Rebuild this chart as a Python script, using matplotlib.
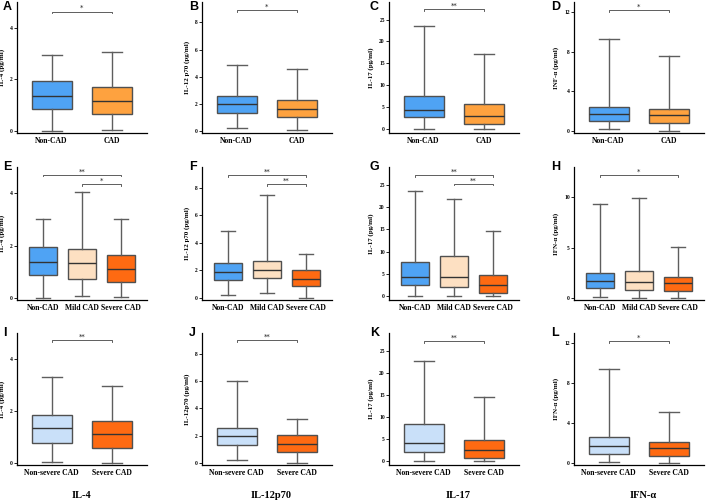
import matplotlib
matplotlib.use("Agg")
import matplotlib.pyplot as plt

# ---- data: [low whisker, q1, median, q3, high whisker] per group ----
grp_ab = ["Non-CAD", "CAD"]
grp_3 = ["Non-CAD", "Mild CAD", "Severe CAD"]
grp_sev = ["Non-severe CAD", "Severe CAD"]

il4_a = [[0.01, 0.86, 1.36, 1.92, 2.96], [0.04, 0.67, 1.18, 1.70, 3.05]]
il12_b = [[0.20, 1.31, 1.98, 2.54, 4.89], [0.05, 1.06, 1.65, 2.30, 4.60]]
il17_c = [[0.10, 2.7, 4.3, 7.6, 23.5], [0.10, 1.1, 2.9, 5.8, 17.2]]
ifn_d = [[0.17, 0.98, 1.68, 2.45, 9.3], [0.03, 0.80, 1.58, 2.25, 7.6]]

il4_e = [[0.00, 0.87, 1.38, 1.96, 3.02], [0.08, 0.72, 1.32, 1.85, 4.04],
         [0.03, 0.61, 1.11, 1.64, 3.02]]
il12_f = [[0.19, 1.31, 1.89, 2.50, 4.87], [0.36, 1.43, 2.06, 2.67, 7.47],
          [0.00, 0.87, 1.38, 2.04, 3.22]]
il17_g = [[0.0, 2.5, 4.2, 7.7, 23.5], [0.0, 2.0, 4.2, 9.1, 21.9],
          [0.0, 0.76, 2.45, 4.8, 14.5]]
ifn_h = [[0.10, 0.95, 1.66, 2.47, 9.32], [0.00, 0.81, 1.55, 2.64, 9.93],
         [0.03, 0.71, 1.45, 2.13, 5.10]]

il4_i = [[0.04, 0.77, 1.35, 1.86, 3.32], [0.00, 0.59, 1.11, 1.62, 2.97]]
il12_j = [[0.20, 1.34, 1.95, 2.59, 6.00], [0.00, 0.83, 1.39, 2.02, 3.24]]
il17_k = [[0.0, 2.06, 4.1, 8.3, 22.6], [0.0, 0.76, 2.44, 4.7, 14.4]]
ifn_l = [[0.10, 0.91, 1.69, 2.57, 9.4], [0.00, 0.74, 1.52, 2.13, 5.14]]

# significance: (group i, group j, height, stars)
sig_a = [(1, 2, 4.63, "*")]
sig_b = [(1, 2, 8.9, "*")]
sig_c = [(1, 2, 27.3, "**")]
sig_d = [(1, 2, 12.2, "*")]
sig_e = [(1, 3, 4.70, "**"), (2, 3, 4.35, "*")]
sig_f = [(1, 3, 8.92, "**"), (2, 3, 8.27, "**")]
sig_g = [(1, 3, 27.1, "**"), (2, 3, 25.2, "**")]
sig_h = [(1, 3, 12.2, "*")]
sig_i = [(1, 2, 4.72, "**")]
sig_j = [(1, 2, 8.98, "**")]
sig_k = [(1, 2, 27.1, "**")]
sig_l = [(1, 2, 12.2, "*")]

c_non = "#4fa3f4"
c_cad = "#fea23f"
c_mild = "#fde0c2"
c_sev = "#fe6a12"
c_nonsev = "#c9e0f9"

W, H = 708, 503
fig = plt.figure(figsize=(W / 100, H / 100), dpi=100)
serif = "Liberation Serif"

col_x = [17, 202, 389, 574]
letter_dx = [-14, -13, -19, -23]
row_y = [(2, 133), (167, 300), (333, 465)]
ax_w = 130


def rect(x0, y0, y1):
    return [x0 / W, 1 - y1 / H, ax_w / W, (y1 - y0) / H]


def panel(r, c, letter, stats, names, colors, ylab, ylim, yticks, sigs):
    ax = fig.add_axes(rect(col_x[c], *row_y[r]))
    n = len(stats)
    bx = []
    for s in stats:
        bx.append(dict(whislo=s[0], q1=s[1], med=s[2], q3=s[3], whishi=s[4], fliers=[]))
    pos = list(range(1, n + 1))
    wd = 0.66 if n == 2 else 0.7
    res = ax.bxp(bx, positions=pos, widths=wd, patch_artist=True, showfliers=False,
                 boxprops=dict(edgecolor="#505050", linewidth=1.0),
                 whiskerprops=dict(color="#5e5e5e", linewidth=1.0),
                 capprops=dict(color="#5e5e5e", linewidth=1.0),
                 medianprops=dict(color="#333333", linewidth=1.0))
    for b, col in zip(res["boxes"], colors):
        b.set_facecolor(col)
    ax.set_xlim(0.5 - (0.07 if n == 2 else 0.17), n + 0.5 + (0.07 if n == 2 else 0.17))
    ax.set_ylim(*ylim)
    ax.set_yticks(yticks)
    ax.set_xticks(pos)
    ax.set_xticklabels(names, fontfamily=serif, fontweight="bold", fontsize=5.5)
    for t in ax.get_yticklabels():
        t.set_fontsize(4)
        t.set_fontfamily(serif)
        t.set_fontweight("bold")
    ax.tick_params(axis="x", length=0, pad=3)
    ax.tick_params(axis="y", length=2, width=0.6, pad=1)
    ax.spines["top"].set_visible(False)
    ax.spines["right"].set_visible(False)
    ax.spines["left"].set_linewidth(0.9)
    ax.spines["bottom"].set_linewidth(0.9)
    ax.set_ylabel(ylab, fontfamily=serif, fontweight="bold", fontsize=5)
    ax.yaxis.set_label_coords(-0.09 if c < 2 else -0.115, 0.5)
    span = ylim[1] - ylim[0]
    for i, j, h, st in sigs:
        d = span * 0.012
        ax.plot([i, i, j, j], [h - d, h, h, h - d], color="#444444", lw=0.6,
                clip_on=False)
        ax.text((i + j) / 2, h + span * 0.004, st, ha="center", va="bottom",
                fontsize=5, color="#222222")
    fig.text((col_x[c] + letter_dx[c]) / W,
             1 - (row_y[r][0] - 6) / H if r > 0 else 1 - 1 / H,
             letter, fontfamily="Liberation Sans", fontweight="bold", fontsize=9,
             ha="left", va="top")
    return ax


y4 = (-0.08, 5.0)
y12 = (-0.15, 9.5)
y17 = (-0.9, 29.0)
yif = (-0.2, 13.0)

two = [c_non, c_cad]
three = [c_non, c_mild, c_sev]
sev = [c_nonsev, c_sev]

panel(0, 0, "A", il4_a, grp_ab, two, "IL-4 (pg/ml)", y4, [0, 2, 4], sig_a)
panel(0, 1, "B", il12_b, grp_ab, two, "IL-12 p70 (pg/ml)", y12, [0, 2, 4, 6, 8], sig_b)
panel(0, 2, "C", il17_c, grp_ab, two, "IL-17 (pg/ml)", y17, [0, 5, 10, 15, 20, 25], sig_c)
panel(0, 3, "D", ifn_d, grp_ab, two, "INF-α (pg/ml)", yif, [0, 4, 8, 12], sig_d)

panel(1, 0, "E", il4_e, grp_3, three, "IL-4 (pg/ml)", y4, [0, 2, 4], sig_e)
panel(1, 1, "F", il12_f, grp_3, three, "IL-12 p70 (pg/ml)", y12, [0, 2, 4, 6, 8], sig_f)
panel(1, 2, "G", il17_g, grp_3, three, "IL-17 (pg/ml)", y17, [0, 5, 10, 15, 20, 25], sig_g)
panel(1, 3, "H", ifn_h, grp_3, three, "IFN-α (pg/ml)", yif, [0, 5, 10], sig_h)

panel(2, 0, "I", il4_i, grp_sev, sev, "IL-4 (pg/ml)", y4, [0, 2, 4], sig_i)
panel(2, 1, "J", il12_j, grp_sev, sev, "IL-12p70 (pg/ml)", y12, [0, 2, 4, 6, 8], sig_j)
panel(2, 2, "K", il17_k, grp_sev, sev, "IL-17 (pg/ml)", y17, [0, 5, 10, 15, 20, 25], sig_k)
panel(2, 3, "L", ifn_l, grp_sev, sev, "IFN-α (pg/ml)", yif, [0, 4, 8, 12], sig_l)

bottom_titles = ["IL-4", "IL-12p70", "IL-17", "IFN-α"]
for c, t in enumerate(bottom_titles):
    fig.text((col_x[c] + ax_w / 2 + (0 if c == 0 else 4)) / W, 1 - 495 / H, t,
             fontfamily=serif, fontweight="bold", fontsize=7.5, ha="center", va="center")

fig.savefig("out.png", dpi=100)
